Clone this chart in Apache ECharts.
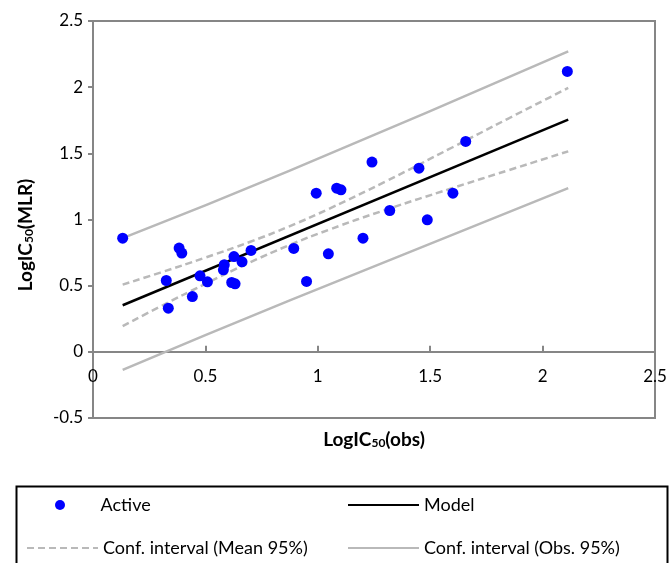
<!DOCTYPE html>
<html>
<head>
<meta charset="utf-8">
<script src="https://cdn.jsdelivr.net/npm/echarts@6/dist/echarts.min.js"></script>
<style>
html,body{margin:0;padding:0;background:#fff;}
#c{width:670px;height:563px;}
</style>
</head>
<body>
<div id="c"></div>
<script>
// Observed vs predicted (Active)
var obsX  = [0.132,0.383,0.395,0.326,0.335,0.442,0.476,0.509,0.584,0.580,0.617,0.632,0.627,0.663,0.703,0.893,0.950,1.047,0.993,1.084,1.103,1.241,1.201,1.320,1.450,1.487,1.601,1.658,2.110];
var predY = [0.859,0.784,0.746,0.539,0.330,0.418,0.574,0.529,0.658,0.620,0.524,0.514,0.720,0.680,0.766,0.781,0.532,0.741,1.199,1.237,1.224,1.434,0.859,1.068,1.388,0.998,1.199,1.590,2.119];

// Model line
var modelX = [0.132, 2.114];
var modelY = [0.352, 1.754];

// Conf. interval (Mean 95%)
var meanX     = [0.132, 0.3, 0.5, 0.7, 0.87, 1.05, 1.3, 1.6, 1.85, 2.114];
var meanUpper = [0.508, 0.599, 0.712, 0.832, 0.946, 1.081, 1.286, 1.546, 1.765, 1.994];
var meanLower = [0.194, 0.343, 0.514, 0.677, 0.804, 0.923, 1.072, 1.238, 1.373, 1.515];

// Conf. interval (Obs. 95%)
var obsCiX     = [0.132, 0.87, 2.114];
var obsCiUpper = [0.859, 1.365, 2.270];
var obsCiLower = [-0.136, 0.385, 1.237];

// Axis ticks
var xTicks = {min: 0, max: 2.5, interval: 0.5};
var yTicks = {min: -0.5, max: 2.5, interval: 0.5};

function pairs(xs, ys) { return xs.map(function (x, i) { return [x, ys[i]]; }); }

var FONT = 'Lato';
var axisGray = '#868686';
var ciGray = '#b9b9b9';

var GRID_TOP = 21, GRID_BOTTOM_PX = 418;
var zeroPx = GRID_TOP + (GRID_BOTTOM_PX - GRID_TOP) * (yTicks.max - 0) / (yTicks.max - yTicks.min);

var chart = echarts.init(document.getElementById('c'), null, {renderer: 'canvas'});

function legendAt(name, left, top, iw, ih, hideSymbol) {
  var l = {
    data: [name], left: left, top: top, padding: 0,
    itemWidth: iw, itemHeight: ih, orient: 'vertical',
    selectedMode: false,
    textStyle: {fontFamily: FONT, fontSize: 18, color: '#000', lineHeight: 20}
  };
  if (hideSymbol) { l.itemStyle = {opacity: 0, color: 'rgba(0,0,0,0)', borderWidth: 0}; }
  return l;
}

chart.setOption({
  animation: false,
  backgroundColor: '#fff',
  grid: {left: 93, right: 15, top: GRID_TOP, bottom: 563 - GRID_BOTTOM_PX, show: true, borderColor: axisGray, borderWidth: 2, backgroundColor: 'transparent'},
  xAxis: {
    type: 'value', min: xTicks.min, max: xTicks.max, interval: xTicks.interval,
    position: 'bottom', offset: -(GRID_BOTTOM_PX - zeroPx),
    axisLine: {show: true, onZero: false, lineStyle: {color: axisGray, width: 2}},
    axisTick: {show: true, inside: true, length: 6, lineStyle: {color: axisGray, width: 2}},
    axisLabel: {margin: 16, fontFamily: FONT, fontSize: 17, color: '#000'},
    splitLine: {show: false}
  },
  yAxis: {
    type: 'value', min: yTicks.min, max: yTicks.max, interval: yTicks.interval,
    axisLine: {show: true, onZero: false, lineStyle: {color: axisGray, width: 2}},
    axisTick: {show: true, inside: false, length: 5, lineStyle: {color: axisGray, width: 2}},
    axisLabel: {margin: 10, fontFamily: FONT, fontSize: 17, color: '#000'},
    splitLine: {show: false}
  },
  legend: [
    legendAt('Active', 55, 495, 71, 10, false),
    legendAt('Model', 347, 495, 71, 14, true),
    legendAt('Conf. interval (Mean 95%)', 26, 538, 71, 14, true),
    legendAt('Conf. interval (Obs. 95%)', 347, 538, 71, 14, true)
  ],
  graphic: [
    {type: 'rect', left: 14, top: 484, shape: {x: 0, y: 0, width: 651, height: 100},
     style: {fill: 'none', stroke: '#000', lineWidth: 2}, silent: true, z: 100},
    {type: 'text', x: 374, y: 437,
     style: {text: '{a|LogIC}{s|50}{a|(obs)}', align: 'center', verticalAlign: 'middle',
       rich: {a: {fontFamily: FONT, fontWeight: 'bold', fontSize: 19, lineHeight: 24, verticalAlign: 'bottom', fill: '#000'},
              s: {fontFamily: FONT, fontWeight: 'bold', fontSize: 12, lineHeight: 24, verticalAlign: 'bottom', fill: '#000'}}}},
    {type: 'text', x: 23, y: 235, rotation: Math.PI / 2,
     style: {text: '{a|LogIC}{s|50}{a|(MLR)}', align: 'center', verticalAlign: 'middle',
       rich: {a: {fontFamily: FONT, fontWeight: 'bold', fontSize: 19, lineHeight: 24, verticalAlign: 'bottom', fill: '#000'},
              s: {fontFamily: FONT, fontWeight: 'bold', fontSize: 12, lineHeight: 24, verticalAlign: 'bottom', fill: '#000'}}}}
  ],
  series: [
    {name: 'Conf. interval (Obs. 95%)', type: 'line', data: pairs(obsCiX, obsCiUpper), symbol: 'none', smooth: true,
     lineStyle: {color: ciGray, width: 2.5}, itemStyle: {color: ciGray}, z: 2},
    {name: 'Conf. interval (Obs. 95%)', type: 'line', data: pairs(obsCiX, obsCiLower), symbol: 'none', smooth: true,
     lineStyle: {color: ciGray, width: 2.5}, itemStyle: {color: ciGray}, z: 2},
    {name: 'Conf. interval (Mean 95%)', type: 'line', data: pairs(meanX, meanUpper), symbol: 'none', smooth: true,
     lineStyle: {color: ciGray, width: 2.5, type: [7, 4]}, itemStyle: {color: ciGray}, z: 2},
    {name: 'Conf. interval (Mean 95%)', type: 'line', data: pairs(meanX, meanLower), symbol: 'none', smooth: true,
     lineStyle: {color: ciGray, width: 2.5, type: [7, 4]}, itemStyle: {color: ciGray}, z: 2},
    {name: 'Model', type: 'line', data: pairs(modelX, modelY), symbol: 'none',
     lineStyle: {color: '#000', width: 2.5}, itemStyle: {color: '#000'}, z: 3},
    {name: 'Active', type: 'scatter', data: pairs(obsX, predY), symbol: 'circle', symbolSize: 11,
     itemStyle: {color: '#0000ff', opacity: 1}, z: 4}
  ]
});
</script>
</body>
</html>
